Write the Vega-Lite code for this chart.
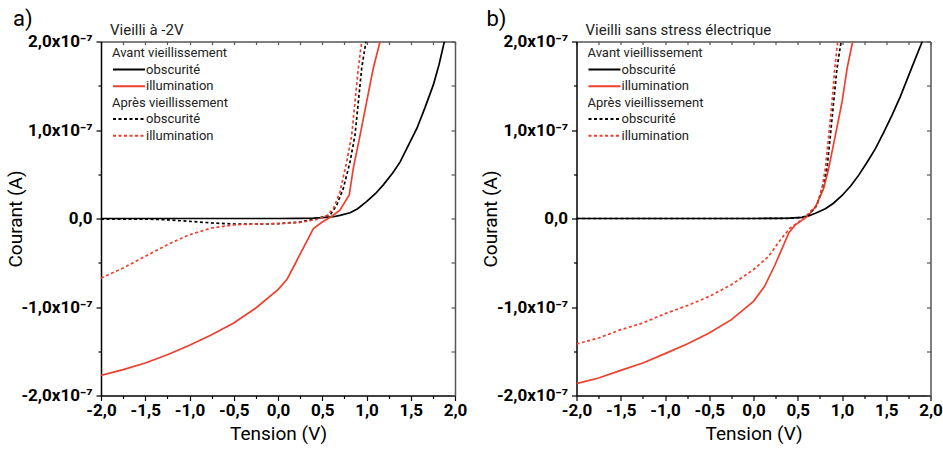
{
  "$schema": "https://vega.github.io/schema/vega-lite/v6.json",
  "padding": {"left": 6, "top": 7.5, "right": 5, "bottom": 5},
  "spacing": 14.5,
  "config": {
    "font": "Roboto",
    "view": {"stroke": null},
    "axis": {"grid": false, "domainWidth": 1.5, "tickWidth": 1.2},
    "legend": {
      "orient": "none",
      "titleFontSize": 13, "titleFontWeight": "normal", "titleColor": "#222", "titleFont": "Roboto",
      "labelFontSize": 13, "labelColor": "#222", "labelFont": "Roboto",
      "symbolType": "stroke", "symbolSize": 1024, "symbolStrokeWidth": 2,
      "clipHeight": 14, "rowPadding": 2.7, "titlePadding": 2.5, "labelOffset": 0, "padding": 0
    }
  },
  "datasets": {
    "a": [
      {"p": "avant", "c": "obscurité", "V": -2, "I": 0},
      {"p": "avant", "c": "obscurité", "V": -1, "I": 0},
      {"p": "avant", "c": "obscurité", "V": 0, "I": 0},
      {"p": "avant", "c": "obscurité", "V": 0.25, "I": 0.001},
      {"p": "avant", "c": "obscurité", "V": 0.4, "I": 0.004},
      {"p": "avant", "c": "obscurité", "V": 0.5, "I": 0.009},
      {"p": "avant", "c": "obscurité", "V": 0.625, "I": 0.02},
      {"p": "avant", "c": "obscurité", "V": 0.7, "I": 0.035},
      {"p": "avant", "c": "obscurité", "V": 0.814, "I": 0.065},
      {"p": "avant", "c": "obscurité", "V": 0.9, "I": 0.11},
      {"p": "avant", "c": "obscurité", "V": 1.0, "I": 0.19},
      {"p": "avant", "c": "obscurité", "V": 1.1, "I": 0.28},
      {"p": "avant", "c": "obscurité", "V": 1.19, "I": 0.38},
      {"p": "avant", "c": "obscurité", "V": 1.3, "I": 0.52},
      {"p": "avant", "c": "obscurité", "V": 1.38, "I": 0.64},
      {"p": "avant", "c": "obscurité", "V": 1.47, "I": 0.82},
      {"p": "avant", "c": "obscurité", "V": 1.57, "I": 1.02},
      {"p": "avant", "c": "obscurité", "V": 1.66, "I": 1.25},
      {"p": "avant", "c": "obscurité", "V": 1.755, "I": 1.51},
      {"p": "avant", "c": "obscurité", "V": 1.82, "I": 1.74},
      {"p": "avant", "c": "obscurité", "V": 1.88, "I": 2.0},
      {"p": "avant", "c": "illumination", "V": -2, "I": -1.772},
      {"p": "avant", "c": "illumination", "V": -1.75, "I": -1.708},
      {"p": "avant", "c": "illumination", "V": -1.5, "I": -1.633},
      {"p": "avant", "c": "illumination", "V": -1.25, "I": -1.539},
      {"p": "avant", "c": "illumination", "V": -1.0, "I": -1.433},
      {"p": "avant", "c": "illumination", "V": -0.75, "I": -1.313},
      {"p": "avant", "c": "illumination", "V": -0.5, "I": -1.181},
      {"p": "avant", "c": "illumination", "V": -0.25, "I": -1.011},
      {"p": "avant", "c": "illumination", "V": 0, "I": -0.804},
      {"p": "avant", "c": "illumination", "V": 0.1, "I": -0.69},
      {"p": "avant", "c": "illumination", "V": 0.19, "I": -0.52},
      {"p": "avant", "c": "illumination", "V": 0.256, "I": -0.39},
      {"p": "avant", "c": "illumination", "V": 0.4, "I": -0.115},
      {"p": "avant", "c": "illumination", "V": 0.5, "I": -0.04},
      {"p": "avant", "c": "illumination", "V": 0.6, "I": 0.02},
      {"p": "avant", "c": "illumination", "V": 0.7, "I": 0.095},
      {"p": "avant", "c": "illumination", "V": 0.806, "I": 0.27},
      {"p": "avant", "c": "illumination", "V": 0.851, "I": 0.57},
      {"p": "avant", "c": "illumination", "V": 0.927, "I": 0.94},
      {"p": "avant", "c": "illumination", "V": 1.002, "I": 1.32},
      {"p": "avant", "c": "illumination", "V": 1.077, "I": 1.7},
      {"p": "avant", "c": "illumination", "V": 1.153, "I": 2.0},
      {"p": "apres", "c": "obscurité", "V": -2, "I": -0.006},
      {"p": "apres", "c": "obscurité", "V": -1.5, "I": -0.006},
      {"p": "apres", "c": "obscurité", "V": -1.25, "I": -0.015},
      {"p": "apres", "c": "obscurité", "V": -1.0, "I": -0.032},
      {"p": "apres", "c": "obscurité", "V": -0.75, "I": -0.05},
      {"p": "apres", "c": "obscurité", "V": -0.5, "I": -0.062},
      {"p": "apres", "c": "obscurité", "V": -0.25, "I": -0.062},
      {"p": "apres", "c": "obscurité", "V": 0, "I": -0.058},
      {"p": "apres", "c": "obscurité", "V": 0.25, "I": -0.04},
      {"p": "apres", "c": "obscurité", "V": 0.44, "I": 0.0},
      {"p": "apres", "c": "obscurité", "V": 0.59, "I": 0.04},
      {"p": "apres", "c": "obscurité", "V": 0.663, "I": 0.15},
      {"p": "apres", "c": "obscurité", "V": 0.738, "I": 0.34},
      {"p": "apres", "c": "obscurité", "V": 0.814, "I": 0.64},
      {"p": "apres", "c": "obscurité", "V": 0.87, "I": 0.94},
      {"p": "apres", "c": "obscurité", "V": 0.908, "I": 1.32},
      {"p": "apres", "c": "obscurité", "V": 0.946, "I": 1.7},
      {"p": "apres", "c": "obscurité", "V": 0.994, "I": 2.0},
      {"p": "apres", "c": "illumination", "V": -2, "I": -0.672},
      {"p": "apres", "c": "illumination", "V": -1.75, "I": -0.56},
      {"p": "apres", "c": "illumination", "V": -1.5, "I": -0.427},
      {"p": "apres", "c": "illumination", "V": -1.25, "I": -0.296},
      {"p": "apres", "c": "illumination", "V": -1.0, "I": -0.183},
      {"p": "apres", "c": "illumination", "V": -0.75, "I": -0.107},
      {"p": "apres", "c": "illumination", "V": -0.5, "I": -0.073},
      {"p": "apres", "c": "illumination", "V": -0.25, "I": -0.062},
      {"p": "apres", "c": "illumination", "V": 0, "I": -0.058},
      {"p": "apres", "c": "illumination", "V": 0.25, "I": -0.045},
      {"p": "apres", "c": "illumination", "V": 0.437, "I": -0.01},
      {"p": "apres", "c": "illumination", "V": 0.55, "I": 0.03},
      {"p": "apres", "c": "illumination", "V": 0.625, "I": 0.11},
      {"p": "apres", "c": "illumination", "V": 0.7, "I": 0.3},
      {"p": "apres", "c": "illumination", "V": 0.776, "I": 0.64},
      {"p": "apres", "c": "illumination", "V": 0.833, "I": 0.94},
      {"p": "apres", "c": "illumination", "V": 0.87, "I": 1.32},
      {"p": "apres", "c": "illumination", "V": 0.908, "I": 1.7},
      {"p": "apres", "c": "illumination", "V": 0.946, "I": 2.0}
    ],
    "b": [
      {"p": "avant", "c": "obscurité", "V": -2, "I": 0},
      {"p": "avant", "c": "obscurité", "V": 0, "I": 0},
      {"p": "avant", "c": "obscurité", "V": 0.25, "I": 0.001},
      {"p": "avant", "c": "obscurité", "V": 0.4, "I": 0.004},
      {"p": "avant", "c": "obscurité", "V": 0.548, "I": 0.012},
      {"p": "avant", "c": "obscurité", "V": 0.623, "I": 0.03},
      {"p": "avant", "c": "obscurité", "V": 0.7, "I": 0.06},
      {"p": "avant", "c": "obscurité", "V": 0.812, "I": 0.11},
      {"p": "avant", "c": "obscurité", "V": 0.9, "I": 0.17},
      {"p": "avant", "c": "obscurité", "V": 1.001, "I": 0.26},
      {"p": "avant", "c": "obscurité", "V": 1.1, "I": 0.37},
      {"p": "avant", "c": "obscurité", "V": 1.189, "I": 0.49},
      {"p": "avant", "c": "obscurité", "V": 1.28, "I": 0.63},
      {"p": "avant", "c": "obscurité", "V": 1.378, "I": 0.79},
      {"p": "avant", "c": "obscurité", "V": 1.47, "I": 0.97},
      {"p": "avant", "c": "obscurité", "V": 1.567, "I": 1.17},
      {"p": "avant", "c": "obscurité", "V": 1.66, "I": 1.38},
      {"p": "avant", "c": "obscurité", "V": 1.755, "I": 1.62},
      {"p": "avant", "c": "obscurité", "V": 1.83, "I": 1.81},
      {"p": "avant", "c": "obscurité", "V": 1.907, "I": 2.0},
      {"p": "avant", "c": "illumination", "V": -2, "I": -1.866},
      {"p": "avant", "c": "illumination", "V": -1.75, "I": -1.802},
      {"p": "avant", "c": "illumination", "V": -1.5, "I": -1.716},
      {"p": "avant", "c": "illumination", "V": -1.25, "I": -1.633},
      {"p": "avant", "c": "illumination", "V": -1.0, "I": -1.527},
      {"p": "avant", "c": "illumination", "V": -0.75, "I": -1.418},
      {"p": "avant", "c": "illumination", "V": -0.5, "I": -1.294},
      {"p": "avant", "c": "illumination", "V": -0.25, "I": -1.143},
      {"p": "avant", "c": "illumination", "V": 0, "I": -0.936},
      {"p": "avant", "c": "illumination", "V": 0.125, "I": -0.766},
      {"p": "avant", "c": "illumination", "V": 0.245, "I": -0.52},
      {"p": "avant", "c": "illumination", "V": 0.4, "I": -0.16},
      {"p": "avant", "c": "illumination", "V": 0.47, "I": -0.075},
      {"p": "avant", "c": "illumination", "V": 0.605, "I": 0.02},
      {"p": "avant", "c": "illumination", "V": 0.699, "I": 0.13},
      {"p": "avant", "c": "illumination", "V": 0.793, "I": 0.34},
      {"p": "avant", "c": "illumination", "V": 0.85, "I": 0.57},
      {"p": "avant", "c": "illumination", "V": 0.925, "I": 0.94},
      {"p": "avant", "c": "illumination", "V": 1.001, "I": 1.32},
      {"p": "avant", "c": "illumination", "V": 1.058, "I": 1.7},
      {"p": "avant", "c": "illumination", "V": 1.121, "I": 2.0},
      {"p": "apres", "c": "obscurité", "V": -2, "I": 0},
      {"p": "apres", "c": "obscurité", "V": 0, "I": 0},
      {"p": "apres", "c": "obscurité", "V": 0.4, "I": 0.001},
      {"p": "apres", "c": "obscurité", "V": 0.548, "I": 0.012},
      {"p": "apres", "c": "obscurité", "V": 0.623, "I": 0.04},
      {"p": "apres", "c": "obscurité", "V": 0.718, "I": 0.15},
      {"p": "apres", "c": "obscurité", "V": 0.775, "I": 0.34},
      {"p": "apres", "c": "obscurité", "V": 0.831, "I": 0.57},
      {"p": "apres", "c": "obscurité", "V": 0.869, "I": 0.94},
      {"p": "apres", "c": "obscurité", "V": 0.906, "I": 1.32},
      {"p": "apres", "c": "obscurité", "V": 0.944, "I": 1.7},
      {"p": "apres", "c": "obscurité", "V": 0.99, "I": 2.0},
      {"p": "apres", "c": "illumination", "V": -2, "I": -1.418},
      {"p": "apres", "c": "illumination", "V": -1.75, "I": -1.35},
      {"p": "apres", "c": "illumination", "V": -1.5, "I": -1.256},
      {"p": "apres", "c": "illumination", "V": -1.25, "I": -1.181},
      {"p": "apres", "c": "illumination", "V": -1.0, "I": -1.075},
      {"p": "apres", "c": "illumination", "V": -0.75, "I": -0.985},
      {"p": "apres", "c": "illumination", "V": -0.5, "I": -0.88},
      {"p": "apres", "c": "illumination", "V": -0.25, "I": -0.748},
      {"p": "apres", "c": "illumination", "V": 0, "I": -0.578},
      {"p": "apres", "c": "illumination", "V": 0.17, "I": -0.428},
      {"p": "apres", "c": "illumination", "V": 0.32, "I": -0.22},
      {"p": "apres", "c": "illumination", "V": 0.415, "I": -0.107},
      {"p": "apres", "c": "illumination", "V": 0.51, "I": -0.04},
      {"p": "apres", "c": "illumination", "V": 0.585, "I": 0.017},
      {"p": "apres", "c": "illumination", "V": 0.623, "I": 0.06},
      {"p": "apres", "c": "illumination", "V": 0.718, "I": 0.15},
      {"p": "apres", "c": "illumination", "V": 0.775, "I": 0.34},
      {"p": "apres", "c": "illumination", "V": 0.812, "I": 0.57},
      {"p": "apres", "c": "illumination", "V": 0.85, "I": 0.94},
      {"p": "apres", "c": "illumination", "V": 0.888, "I": 1.32},
      {"p": "apres", "c": "illumination", "V": 0.918, "I": 1.7},
      {"p": "apres", "c": "illumination", "V": 0.952, "I": 2.0}
    ]
  },
  "hconcat": [
    {
      "title": {"text": "a)", "anchor": "start", "frame": "bounds", "fontSize": 22, "fontWeight": "normal", "font": "Roboto", "color": "black", "offset": -8, "dx": 7},
      "width": 354, "height": 354,
      "layer": [
        {
          "data": {"name": "a"},
          "transform": [{"filter": "datum.p == 'avant'"}],
          "mark": {"type": "line", "strokeWidth": 1.7, "clip": true},
          "encoding": {
            "x": {"field": "V", "type": "quantitative", "scale": {"domain": [-2, 2], "nice": false, "zero": false},
              "axis": {"orient": "bottom", "title": "Tension (V)", "values": [-2, -1.75, -1.5, -1.25, -1, -0.75, -0.5, -0.25, 0, 0.25, 0.5, 0.75, 1, 1.25, 1.5, 1.75, 2],
                "labelExpr": "abs(datum.value*2-round(datum.value*2))<0.01 ? (datum.value<0?'-':'')+replace(format(abs(datum.value),'.1f'),'.',',') : ''",
                "tickSize": {"condition": {"test": "abs(datum.value*2-round(datum.value*2))>0.01", "value": 3}, "value": 5},
                "labelFlush": false, "labelOverlap": false, "labelFontSize": 17, "labelFontWeight": "bold", "labelColor": "black", "labelPadding": 2,
                "tickColor": "black", "domainColor": "black", "titleFontSize": 19, "titleFontWeight": "normal", "titleColor": "black", "titlePadding": 6}},
            "y": {"field": "I", "type": "quantitative", "scale": {"domain": [-2, 2], "nice": false, "zero": false},
              "axis": {"orient": "left", "title": "Courant (A)", "values": [-2, -1.5, -1, -0.5, 0, 0.5, 1, 1.5, 2],
                "labelExpr": "datum.value==round(datum.value) ? (datum.value==0 ? '0,0' : (datum.value<0?'-':'')+replace(format(abs(datum.value),'.1f'),'.',',')+'x10⁻⁷') : ''",
                "tickSize": {"condition": {"test": "datum.value!=round(datum.value)", "value": 3}, "value": 5},
                "labelOverlap": false, "labelFontSize": 17, "labelFontWeight": "bold", "labelColor": "black", "labelPadding": 4,
                "tickColor": "black", "domainColor": "black", "titleFontSize": 19, "titleFontWeight": "normal", "titleColor": "black", "titleX": -76}},
            "color": {"field": "c", "type": "nominal", "scale": {"domain": ["obscurité", "illumination"], "range": ["black", "#EE402D"]},
              "legend": {"title": "Avant vieillissement", "legendX": 11, "legendY": 5.5}}
          }
        },
        {
          "data": {"name": "a"},
          "transform": [{"filter": "datum.p == 'apres'"}],
          "mark": {"type": "line", "strokeWidth": 1.7, "strokeDash": [3, 2.5], "clip": true},
          "encoding": {
            "x": {"field": "V", "type": "quantitative", "scale": {"domain": [-2, 2], "nice": false, "zero": false},
              "axis": {"orient": "top", "title": null, "labels": false, "values": [-2, -1.75, -1.5, -1.25, -1, -0.75, -0.5, -0.25, 0, 0.25, 0.5, 0.75, 1, 1.25, 1.5, 1.75, 2], "tickSize": -3, "tickColor": "#555", "domainColor": "#555"}},
            "y": {"field": "I", "type": "quantitative", "scale": {"domain": [-2, 2], "nice": false, "zero": false},
              "axis": {"orient": "right", "title": null, "labels": false, "values": [-2, -1.5, -1, -0.5, 0, 0.5, 1, 1.5, 2], "tickSize": -4, "tickColor": "#555", "domainColor": "#555"}},
            "color": {"field": "c", "type": "nominal", "scale": {"domain": ["obscurité", "illumination"], "range": ["black", "#EE402D"]},
              "legend": {"title": "Après vieillissement", "legendX": 11, "legendY": 55, "symbolDash": [3, 2.5]}}
          }
        },
        {
          "data": {"values": [{"t": "Vieilli à -2V"}]},
          "mark": {"type": "text", "align": "left", "baseline": "alphabetic", "dx": 9, "dy": -6.5, "fontSize": 15, "font": "Roboto", "color": "#222"},
          "encoding": {
            "x": {"datum": -2, "type": "quantitative", "axis": null},
            "y": {"datum": 2, "type": "quantitative", "axis": null},
            "text": {"field": "t"}
          }
        }
      ],
      "resolve": {"scale": {"color": "independent"}, "axis": {"x": "independent", "y": "independent"}}
    },
    {
      "title": {"text": "b)", "anchor": "start", "frame": "bounds", "fontSize": 22, "fontWeight": "normal", "font": "Roboto", "color": "black", "offset": -8, "dx": 5},
      "width": 354, "height": 354,
      "layer": [
        {
          "data": {"name": "b"},
          "transform": [{"filter": "datum.p == 'avant'"}],
          "mark": {"type": "line", "strokeWidth": 1.7, "clip": true},
          "encoding": {
            "x": {"field": "V", "type": "quantitative", "scale": {"domain": [-2, 2], "nice": false, "zero": false},
              "axis": {"orient": "bottom", "title": "Tension (V)", "values": [-2, -1.75, -1.5, -1.25, -1, -0.75, -0.5, -0.25, 0, 0.25, 0.5, 0.75, 1, 1.25, 1.5, 1.75, 2],
                "labelExpr": "abs(datum.value*2-round(datum.value*2))<0.01 ? (datum.value<0?'-':'')+replace(format(abs(datum.value),'.1f'),'.',',') : ''",
                "tickSize": {"condition": {"test": "abs(datum.value*2-round(datum.value*2))>0.01", "value": 3}, "value": 5},
                "labelFlush": false, "labelOverlap": false, "labelFontSize": 17, "labelFontWeight": "bold", "labelColor": "black", "labelPadding": 2,
                "tickColor": "black", "domainColor": "black", "titleFontSize": 19, "titleFontWeight": "normal", "titleColor": "black", "titlePadding": 6}},
            "y": {"field": "I", "type": "quantitative", "scale": {"domain": [-2, 2], "nice": false, "zero": false},
              "axis": {"orient": "left", "title": "Courant (A)", "values": [-2, -1.5, -1, -0.5, 0, 0.5, 1, 1.5, 2],
                "labelExpr": "datum.value==round(datum.value) ? (datum.value==0 ? '0,0' : (datum.value<0?'-':'')+replace(format(abs(datum.value),'.1f'),'.',',')+'x10⁻⁷') : ''",
                "tickSize": {"condition": {"test": "datum.value!=round(datum.value)", "value": 3}, "value": 5},
                "labelOverlap": false, "labelFontSize": 17, "labelFontWeight": "bold", "labelColor": "black", "labelPadding": 4,
                "tickColor": "black", "domainColor": "black", "titleFontSize": 19, "titleFontWeight": "normal", "titleColor": "black", "titleX": -76}},
            "color": {"field": "c", "type": "nominal", "scale": {"domain": ["obscurité", "illumination"], "range": ["black", "#EE402D"]},
              "legend": {"title": "Avant vieillissement", "legendX": 11, "legendY": 5.5}}
          }
        },
        {
          "data": {"name": "b"},
          "transform": [{"filter": "datum.p == 'apres'"}],
          "mark": {"type": "line", "strokeWidth": 1.7, "strokeDash": [3, 2.5], "clip": true},
          "encoding": {
            "x": {"field": "V", "type": "quantitative", "scale": {"domain": [-2, 2], "nice": false, "zero": false},
              "axis": {"orient": "top", "title": null, "labels": false, "values": [-2, -1.75, -1.5, -1.25, -1, -0.75, -0.5, -0.25, 0, 0.25, 0.5, 0.75, 1, 1.25, 1.5, 1.75, 2], "tickSize": -3, "tickColor": "#555", "domainColor": "#555"}},
            "y": {"field": "I", "type": "quantitative", "scale": {"domain": [-2, 2], "nice": false, "zero": false},
              "axis": {"orient": "right", "title": null, "labels": false, "values": [-2, -1.5, -1, -0.5, 0, 0.5, 1, 1.5, 2], "tickSize": -4, "tickColor": "#555", "domainColor": "#555"}},
            "color": {"field": "c", "type": "nominal", "scale": {"domain": ["obscurité", "illumination"], "range": ["black", "#EE402D"]},
              "legend": {"title": "Après vieillissement", "legendX": 11, "legendY": 55, "symbolDash": [3, 2.5]}}
          }
        },
        {
          "data": {"values": [{"t": "Vieilli sans stress électrique"}]},
          "mark": {"type": "text", "align": "left", "baseline": "alphabetic", "dx": 9, "dy": -6.5, "fontSize": 15, "font": "Roboto", "color": "#222"},
          "encoding": {
            "x": {"datum": -2, "type": "quantitative", "axis": null},
            "y": {"datum": 2, "type": "quantitative", "axis": null},
            "text": {"field": "t"}
          }
        }
      ],
      "resolve": {"scale": {"color": "independent"}, "axis": {"x": "independent", "y": "independent"}}
    }
  ]
}
